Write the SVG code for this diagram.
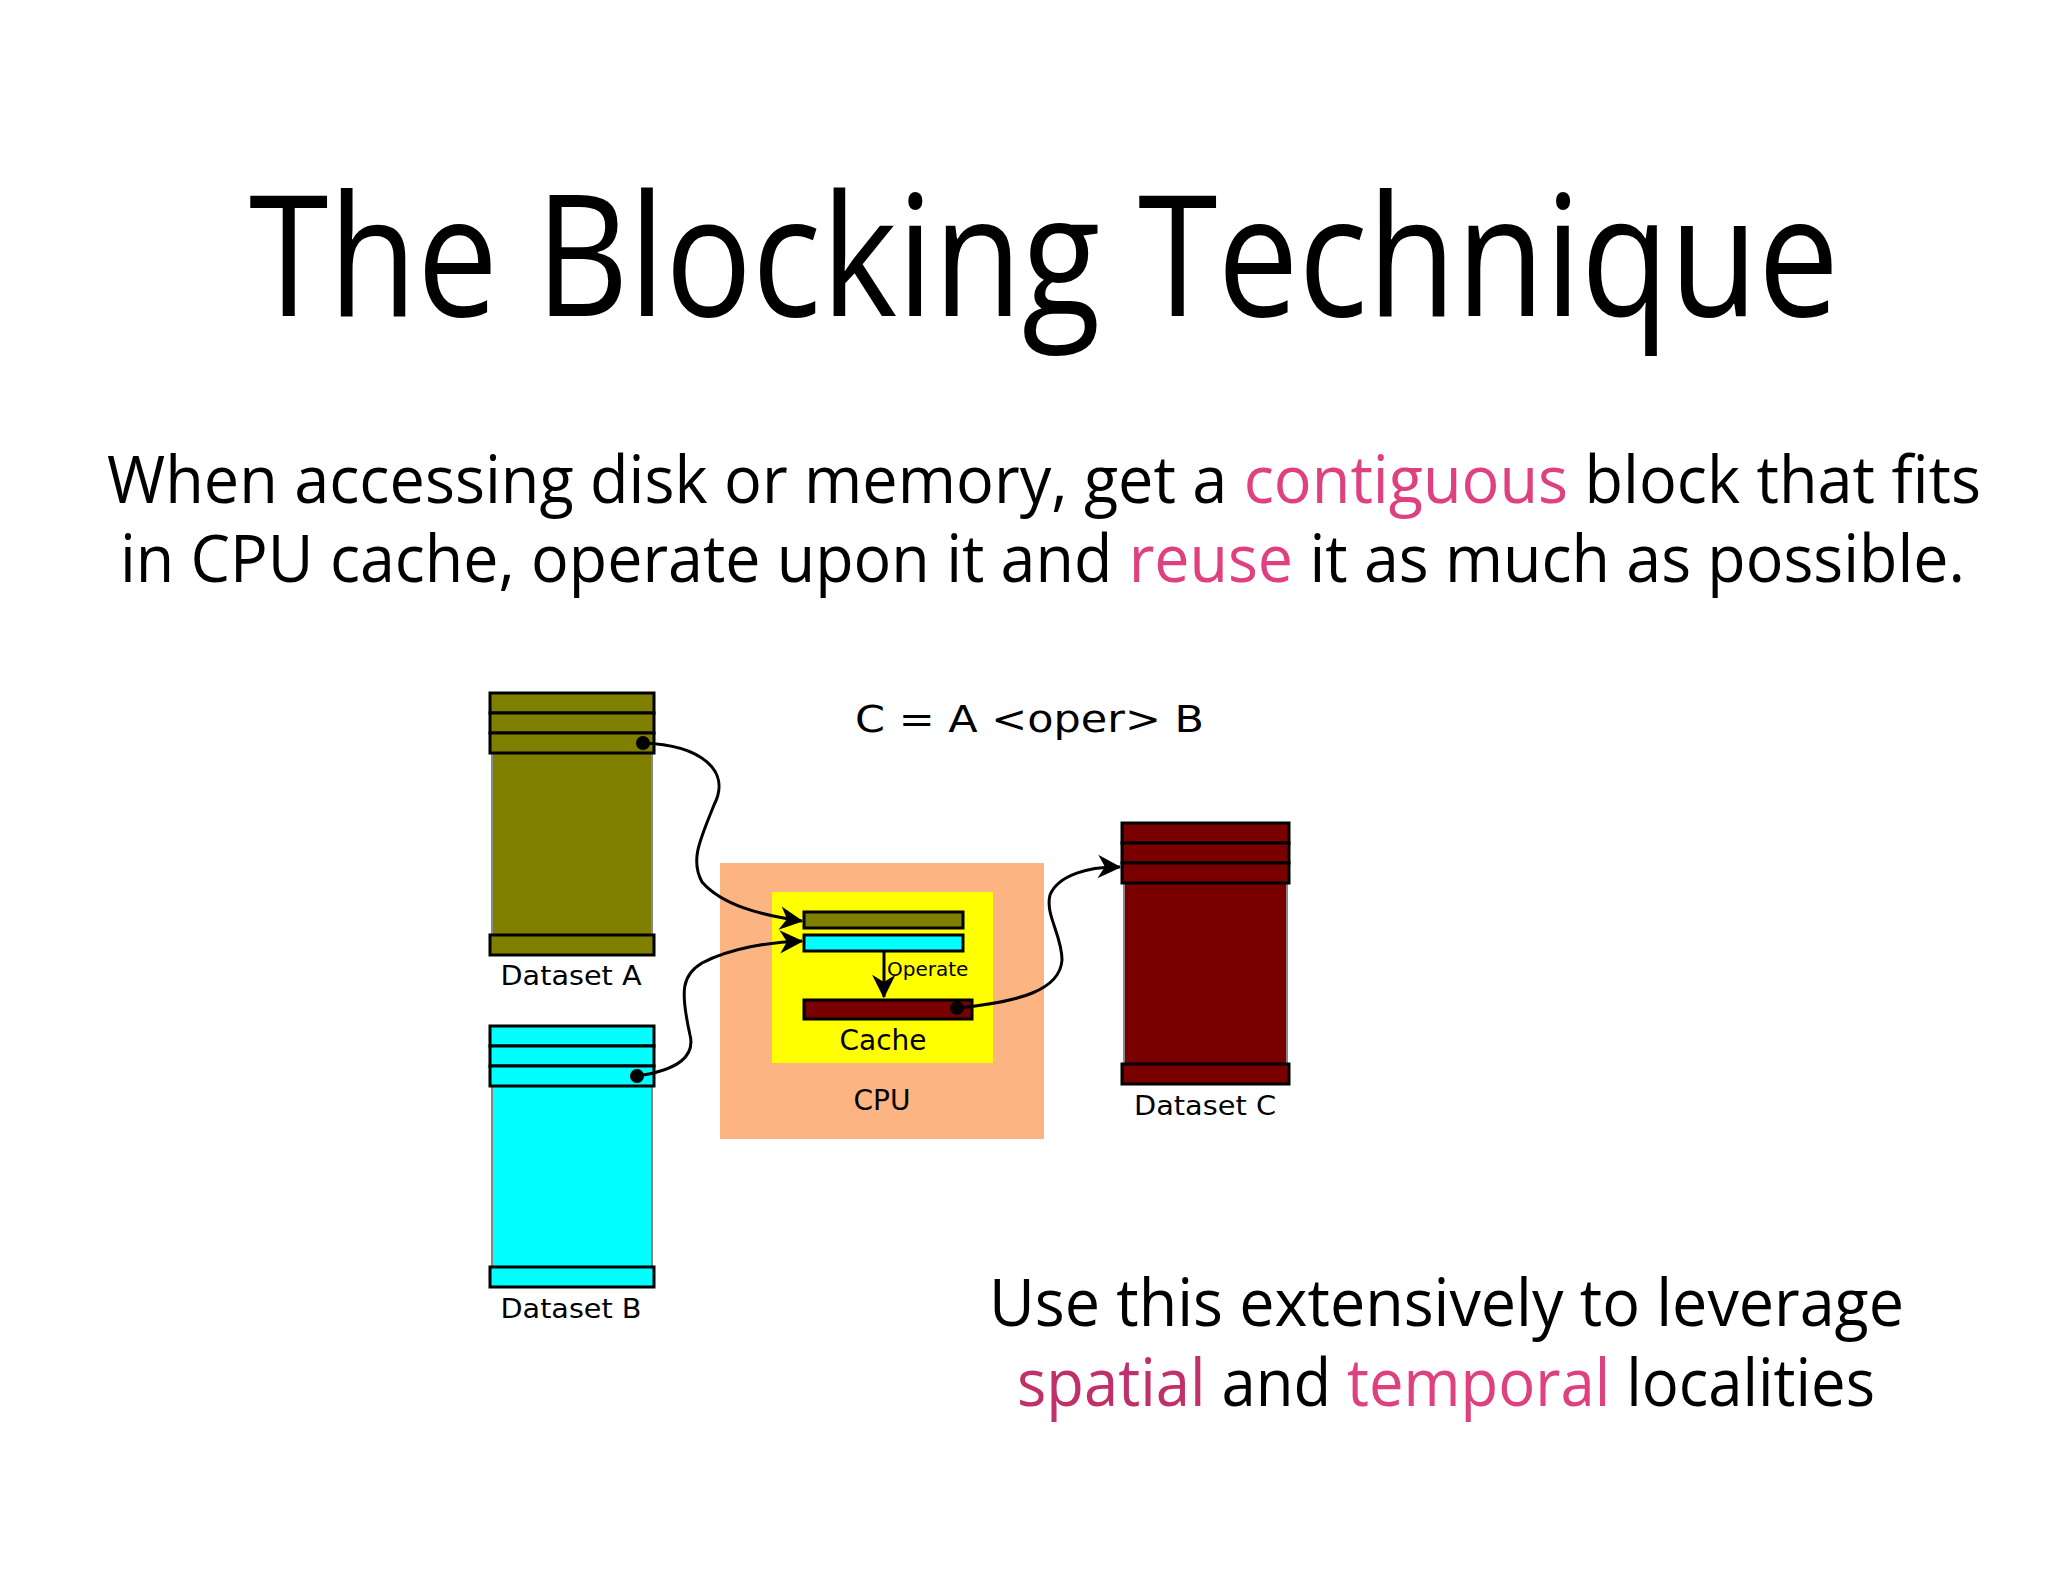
<svg xmlns="http://www.w3.org/2000/svg" width="2048" height="1582" viewBox="0 0 2048 1582">
<style>
.h{font-family:"Open Sans","Liberation Sans",sans-serif;fill:#000}
.d{font-family:"DejaVu Sans",sans-serif;fill:#000}
.pk{fill:#de4080}
.s{stroke:#000;stroke-width:3}
.c{fill:none;stroke:#000;stroke-width:3}
</style>
<defs>
<marker id="ar" viewBox="0 0 10 10" refX="9" refY="5" markerWidth="9" markerHeight="9" markerUnits="userSpaceOnUse" orient="auto" style="overflow:visible">
<path d="M0,0 L10,5 L0,10 L3,5 Z" fill="#000" transform="scale(2.6) translate(-6,-3)"/>
</marker>
</defs>
<rect width="2048" height="1582" fill="#fff"/>
<text class="h" x="1044" y="316" font-size="168" text-anchor="middle" textLength="1590" lengthAdjust="spacingAndGlyphs">The Blocking Technique</text>
<text class="h" x="107" y="503" font-size="66" textLength="1874" lengthAdjust="spacingAndGlyphs">When accessing disk or memory, get a <tspan class="pk">contiguous</tspan> block that fits</text>
<text class="h" x="120" y="582" font-size="66" textLength="1845" lengthAdjust="spacingAndGlyphs">in CPU cache, operate upon it and <tspan class="pk">reuse</tspan> it as much as possible.</text>
<text class="h" x="989" y="1326" font-size="66" textLength="915" lengthAdjust="spacingAndGlyphs">Use this extensively to leverage</text>
<text class="h" x="1017" y="1406" font-size="66" textLength="858" lengthAdjust="spacingAndGlyphs"><tspan fill="#c0306a">spatial</tspan> and <tspan class="pk">temporal</tspan> localities</text>
<text class="d" x="855" y="732" font-size="38" textLength="349" lengthAdjust="spacingAndGlyphs">C = A &lt;oper&gt; B</text>

<g id="datasetA">
<rect x="492" y="713" width="160" height="232" fill="#808000" stroke="#888" stroke-width="2"/>
<rect class="s" x="490" y="693" width="164" height="20" fill="#808000"/>
<rect class="s" x="490" y="713" width="164" height="20" fill="#808000"/>
<rect class="s" x="490" y="733" width="164" height="20" fill="#808000"/>
<rect class="s" x="490" y="935" width="164" height="20" fill="#808000"/>
<text class="d" x="571" y="985" font-size="27" text-anchor="middle" textLength="141" lengthAdjust="spacingAndGlyphs">Dataset A</text>
</g>
<g id="datasetB">
<rect x="492" y="1066" width="160" height="206" fill="#00ffff" stroke="#888" stroke-width="2"/>
<rect class="s" x="490" y="1026" width="164" height="20" fill="#00ffff"/>
<rect class="s" x="490" y="1046" width="164" height="20" fill="#00ffff"/>
<rect class="s" x="490" y="1066" width="164" height="20" fill="#00ffff"/>
<rect class="s" x="490" y="1267" width="164" height="20" fill="#00ffff"/>
<text class="d" x="571" y="1318" font-size="27" text-anchor="middle" textLength="141" lengthAdjust="spacingAndGlyphs">Dataset B</text>
</g>
<g id="datasetC">
<rect x="1124" y="863" width="163" height="210" fill="#7a0000" stroke="#888" stroke-width="2"/>
<rect class="s" x="1122" y="823" width="167" height="20" fill="#7a0000"/>
<rect class="s" x="1122" y="843" width="167" height="20" fill="#7a0000"/>
<rect class="s" x="1122" y="863" width="167" height="20" fill="#7a0000"/>
<rect class="s" x="1122" y="1064" width="167" height="20" fill="#7a0000"/>
<text class="d" x="1205" y="1115" font-size="27" text-anchor="middle" textLength="142" lengthAdjust="spacingAndGlyphs">Dataset C</text>
</g>
<g id="cpu">
<rect x="720" y="863" width="324" height="276" fill="#fbb482"/>
<text class="d" x="882" y="1110" font-size="28" text-anchor="middle">CPU</text>
</g>
<g id="cache">
<rect x="772" y="892" width="221" height="171" fill="#ffff00"/>
<rect class="s" x="804" y="912" width="159" height="16" fill="#808000"/>
<rect class="s" x="804" y="935" width="159" height="16" fill="#00ffff"/>
<rect class="s" x="804" y="1000" width="168" height="19" fill="#7a0000"/>
<text class="d" x="883" y="1050" font-size="28" text-anchor="middle">Cache</text>
<text class="d" x="887" y="976" font-size="20">Operate</text>
</g>
<g id="connectors">
<path class="c" d="M884,951 L884,997" marker-end="url(#ar)"/>
<path class="c" d="M643,743 C700,745 732,770 714,805 C700,840 690,860 702,882 C722,905 760,915 802,921" marker-end="url(#ar)"/>
<path class="c" d="M637,1076 C680,1070 695,1055 690,1035 C680,990 682,975 702,963 C730,948 770,942 802,941" marker-end="url(#ar)"/>
<path class="c" d="M957,1008 C1020,1002 1060,990 1062,960 C1062,935 1045,915 1050,895 C1058,875 1090,866 1120,867" marker-end="url(#ar)"/>
<circle cx="643" cy="743" r="7"/>
<circle cx="637" cy="1076" r="7"/>
<circle cx="957" cy="1008" r="7"/>
</g>
</svg>
